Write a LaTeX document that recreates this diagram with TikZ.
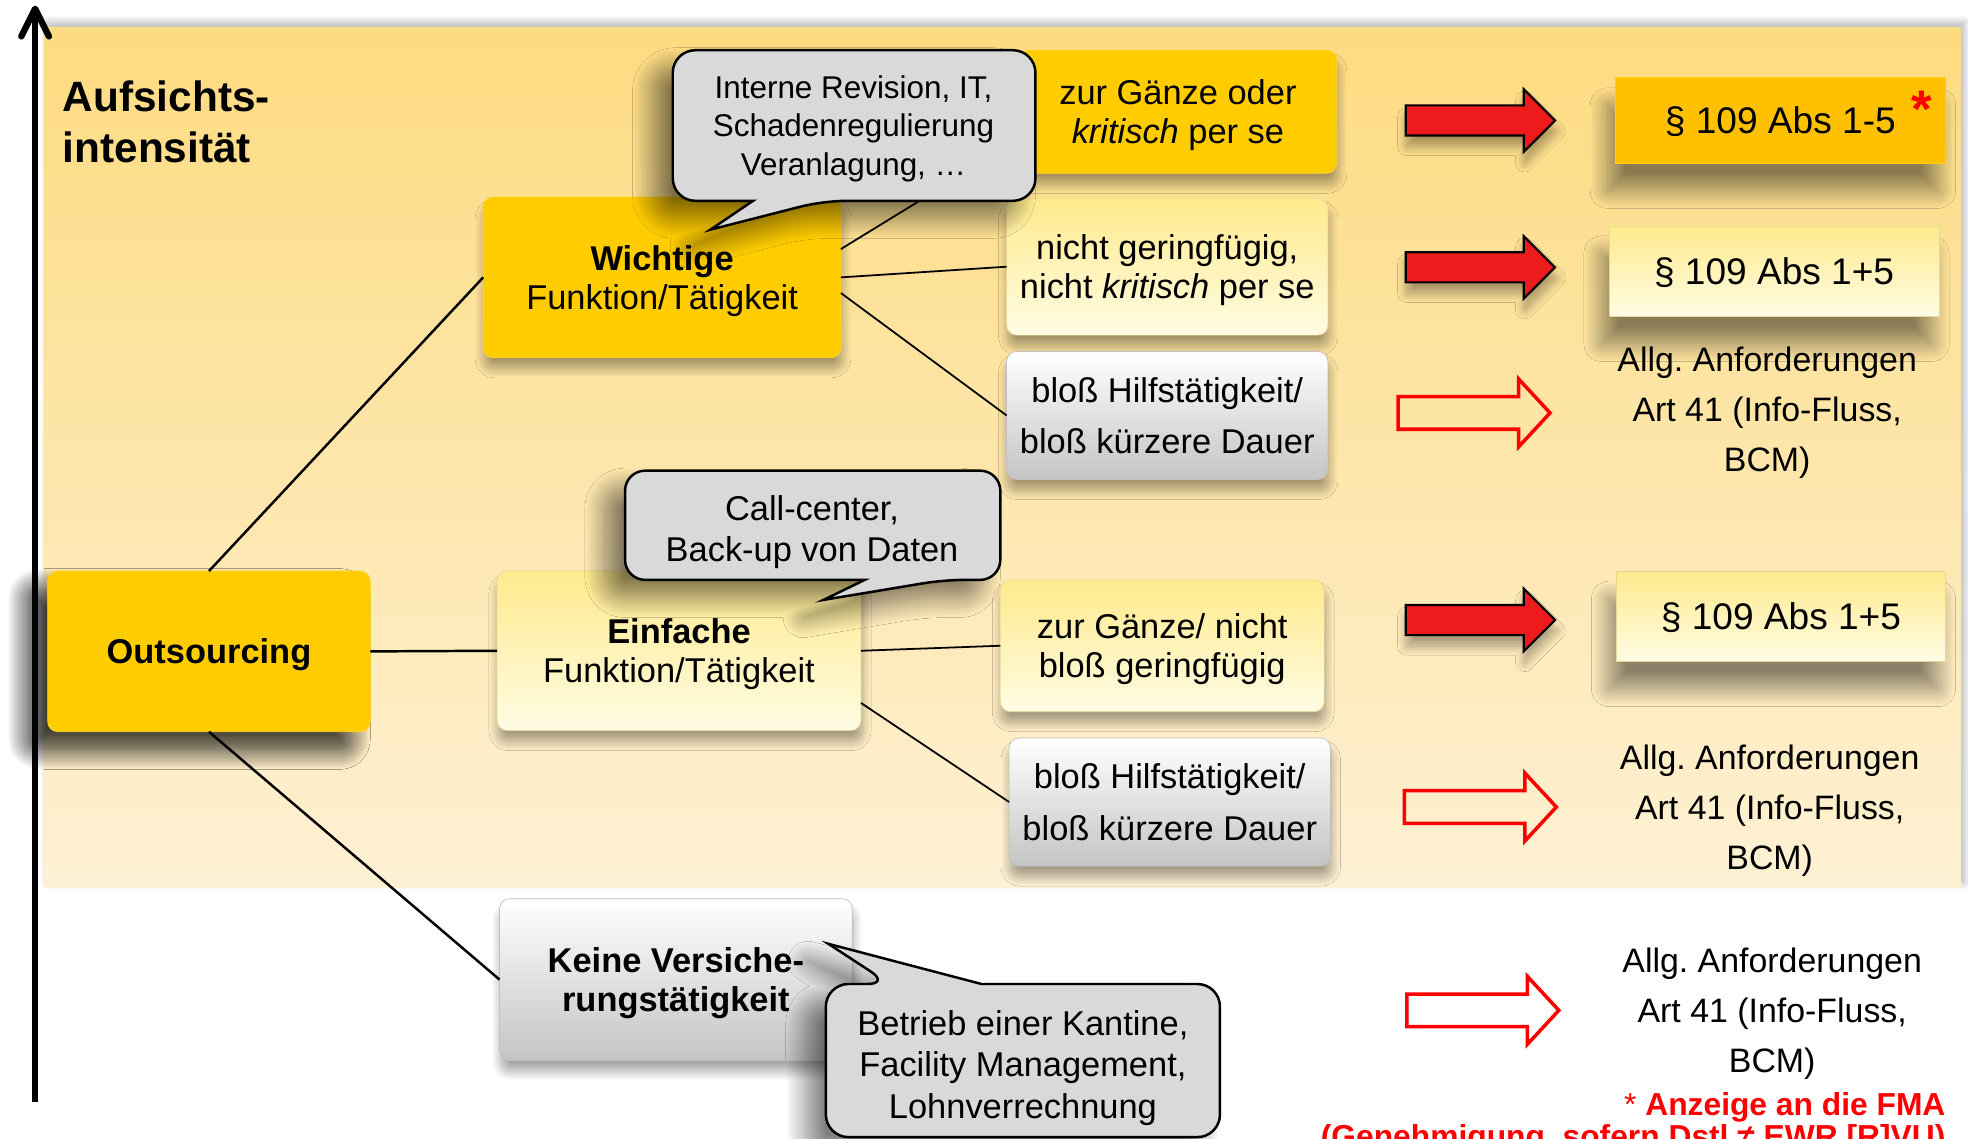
\documentclass[tikz,border=0pt]{standalone}
\usepackage{fontspec}
\setmainfont{Liberation Sans}
\frenchspacing
\usetikzlibrary{arrows.meta,shadows.blur}

\definecolor{bgtop}{RGB}{253,219,128}
\definecolor{bgbot}{RGB}{254,241,212}
\definecolor{gold}{RGB}{255,204,0}
\definecolor{amber}{RGB}{255,192,0}
\definecolor{paletop}{RGB}{255,234,140}
\definecolor{palebot}{RGB}{255,252,228}
\definecolor{paleedge}{RGB}{232,216,150}
\definecolor{silverbot}{RGB}{196,196,196}
\definecolor{bubblegray}{RGB}{217,217,217}
\definecolor{arrowred}{RGB}{237,27,27}
\definecolor{notered}{RGB}{255,0,0}

\begin{document}
\begin{tikzpicture}[x=0.025cm, y=-0.025cm,
  every node/.style={inner sep=0pt, outer sep=0pt, align=center},
  sz/.style 2 args={minimum width=#1*0.025cm, minimum height=#2*0.025cm},
  boxfont/.style={font=\fontsize{19.5}{22}\selectfont, text depth=0pt},
  softshadow/.style={blur shadow={shadow xshift=0.02cm, shadow yshift=-0.22cm, shadow blur radius=0.18cm, shadow blur steps=20, shadow opacity=35}},
  bigshadow/.style={blur shadow={shadow xshift=-0.4cm, shadow yshift=-0.35cm, shadow blur radius=0.4cm, shadow blur steps=24, shadow opacity=50}},
  resshadow/.style={blur shadow={shadow xshift=-0.15cm, shadow yshift=-0.55cm, shadow blur radius=0.35cm, shadow blur steps=24, shadow opacity=45}},
  goldbox/.style={rounded corners=0.2cm, fill=gold, draw=gold!85!white, softshadow, boxfont},
  palebox/.style={rounded corners=0.2cm, top color=paletop, bottom color=palebot, draw=paleedge, softshadow, boxfont},
  silverbox/.style={rounded corners=0.2cm, top color=white, bottom color=silverbot, draw=gray!50, softshadow, boxfont},
  lawbox/.style={top color=paletop, bottom color=palebot, draw=paleedge, resshadow, lawfont},
  bubble/.style={fill=bubblegray, draw=black, line width=1.4pt, bigshadow},
  bubblefont/.style={font=\fontsize{19.5}{23.5}\selectfont, text depth=0pt},
  axisline/.style={line width=3.6pt, line cap=round, line join=round},
  conn/.style={line width=1.4pt},
  thinconn/.style={line width=1pt},
  fullarrow/.style={fill=arrowred, draw=black, line width=1.2pt, softshadow},
  hollowarrow/.style={draw=notered, line width=2pt, line join=miter},
  lawfont/.style={font=\fontsize{21}{25}\selectfont, text depth=0pt},
  reqfont/.style={font=\fontsize{19.2}{28.5}\selectfont, text depth=0pt},
  notefont/.style={text=notered, font=\fontsize{18}{18}\selectfont\bfseries}
]
\useasboundingbox (0,0) rectangle (1568,907);
\clip (0,0) rectangle (1568,907);

\fill[top color=bgtop, bottom color=bgbot, blur shadow={shadow xshift=0.08cm, shadow yshift=0.1cm, shadow blur radius=0.15cm, shadow blur steps=12, shadow opacity=30}] (35,22) rectangle (1562,707);

\coordinate (axtop) at (28,7);
\draw[axisline, line cap=butt] (28,878) -- (axtop);
\draw[axisline] (17,29) -- (axtop) -- (39,29);

\node[anchor=west, align=left, font=\fontsize{24}{28.5}\selectfont\bfseries] (titel) at (50,97) {Aufsichts-\\intensität};

\node[goldbox, sz={257}{128}, bigshadow, font=\fontsize{19.5}{22}\selectfont\bfseries] (outs) at (166.5,519) {Outsourcing};
\node[goldbox, sz={285}{128}] (wicht) at (527.5,221) {\textbf{Wichtige}\\Funktion/Tätigkeit};
\node[goldbox, sz={253}{98}] (ganz) at (938.5,89) {zur Gänze oder\\\textit{kritisch} per se};
\node[palebox, sz={256}{109}] (nichtger) at (930,212.5) {nicht geringfügig,\\nicht \textit{kritisch} per se};
\node[silverbox, sz={256}{102}, font=\fontsize{19.5}{29}\selectfont] (hilf1) at (930,331) {bloß Hilfstätigkeit/\\bloß kürzere Dauer};
\node[palebox, sz={290}{127}] (einf) at (541,518.5) {\textbf{Einfache}\\Funktion/Tätigkeit};
\node[palebox, sz={258}{105}] (ganzeinf) at (926,514.5) {zur Gänze/ nicht\\bloß geringfügig};
\node[silverbox, sz={256}{102}, font=\fontsize{19.5}{29}\selectfont] (hilf2) at (932,639) {bloß Hilfstätigkeit/\\bloß kürzere Dauer};
\node[silverbox, sz={281}{129}, font=\fontsize{19.5}{22}\selectfont\bfseries] (keine) at (538.5,780.5) {Keine Versiche-\\rungstätigkeit};

\draw[conn] (outs.north) -- (wicht.west);
\draw[conn] (outs.east) -- (einf.west);
\draw[conn] (outs.south) -- (keine.west);
\draw[thinconn] (wicht.9) -- (ganz.190);
\draw[thinconn] (wicht.east) -- (nichtger.west);
\draw[thinconn] (wicht.-5) -- (hilf1.west);
\draw[thinconn] (einf.east) -- (ganzeinf.west);
\draw[thinconn] (einf.-16) -- (hilf2.west);

\draw[bubble] (536,100) [rounded corners=0.45cm] -- (536,40) -- (825,40) -- (825,160) -- (656,160) [sharp corners] -- (566,183) -- (600,160) [rounded corners=0.45cm] -- (536,160) -- cycle;
\node[font=\fontsize{17.8}{21.7}\selectfont, text depth=0pt] (bubwicht) at (680,100) {Interne Revision, IT,\\Schadenregulierung\\Veranlagung, …};

\draw[bubble] (498,418) [rounded corners=0.4cm] -- (498,375) -- (797,375) -- (797,462) -- (752,462) [sharp corners] -- (656,478) -- (689,462) [rounded corners=0.4cm] -- (498,462) -- cycle;
\node[bubblefont] (bubeinf) at (647,421) {Call-center,\\Back-up von Daten};

\draw[bubble] (658,845) [rounded corners=0.45cm] -- (658,784) -- (709,784) [sharp corners] -- (660,752) -- (782,784) [rounded corners=0.45cm] -- (972,784) -- (972,906) -- (658,906) -- cycle;
\node[bubblefont] (bubkeine) at (815,848) {Betrieb einer Kantine,\\Facility Management,\\Lohnverrechnung};

\foreach \ya in {96,213,494}
  \draw[fullarrow] (1120,\ya-12) -- (1214,\ya-12) -- (1214,\ya-25) -- (1239,\ya) -- (1214,\ya+25) -- (1214,\ya+12) -- (1120,\ya+12) -- cycle;
\foreach \xa/\ya in {1114/329, 1119/643, 1121/805}
  \draw[hollowarrow] (\xa,\ya-13) -- (\xa+96,\ya-13) -- (\xa+96,\ya-27) -- (\xa+121,\ya) -- (\xa+96,\ya+27) -- (\xa+96,\ya+13) -- (\xa,\ya+13) -- cycle;

\node[sz={263}{68}, fill=amber, draw=amber!70!yellow, resshadow, lawfont] (abs15) at (1418.5,96) {§ 109 Abs 1-5};
\node[text=notered, font=\fontsize{30}{30}\selectfont\bfseries] (stern) at (1531,87) {*};
\node[lawbox, sz={263}{72}] (abs1p5a) at (1413.5,216) {§ 109 Abs 1+5};
\node[lawbox, sz={262}{72}] (abs1p5b) at (1419,491) {§ 109 Abs 1+5};

\node[reqfont] (anf1) at (1408,326) {Allg. Anforderungen\\Art 41 (Info-Fluss,\\BCM)};
\node[reqfont] (anf2) at (1410,643) {Allg. Anforderungen\\Art 41 (Info-Fluss,\\BCM)};
\node[reqfont] (anf3) at (1412,805) {Allg. Anforderungen\\Art 41 (Info-Fluss,\\BCM)};

\node[notefont, anchor=base east] (fma) at (1550,889) {\textmd{*} Anzeige an die FMA};
\node[notefont, anchor=base east] (genehm) at (1550,914) {(Genehmigung, sofern Dstl ≠ EWR [R]VU)};
\end{tikzpicture}
\end{document}
